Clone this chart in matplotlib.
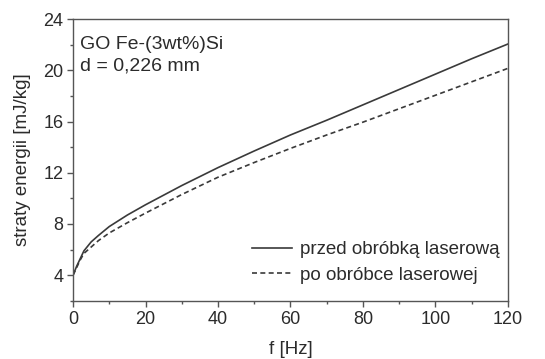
import matplotlib
matplotlib.use("Agg")
import matplotlib.pyplot as plt
from matplotlib.ticker import MultipleLocator

plt.rcParams['font.family'] = ['Liberation Sans', 'DejaVu Sans']

f_hz = [0, 1, 2, 3, 5, 7, 10, 15, 20, 30, 40, 50, 60, 70, 80, 90, 100, 110, 120]
straty_przed = [4.0, 4.7, 5.3, 5.9, 6.6, 7.1, 7.8, 8.7, 9.5, 11.0, 12.4, 13.7,
                14.95, 16.1, 17.3, 18.5, 19.7, 20.9, 22.05]
straty_po = [4.0, 4.6, 5.2, 5.7, 6.2, 6.7, 7.3, 8.1, 8.85, 10.3, 11.65, 12.8,
             13.9, 14.95, 15.95, 17.0, 18.05, 19.1, 20.15]
labels = ['przed obróbką laserową', 'po obróbce laserowej']

txt = '#2b2b2b'
fig = plt.figure(figsize=(5.45, 3.59), dpi=100)
ax = fig.add_axes([0.134, 0.162, 0.798, 0.785])

ax.plot(f_hz, straty_przed, color='#3a3a3a', lw=1.2, ls='-', label=labels[0])
ax.plot(f_hz, straty_po, color='#3a3a3a', lw=1.2, ls=(0, (3, 2)), label=labels[1])

ax.set_xlim(0, 120)
ax.set_ylim(2, 24)
ax.xaxis.set_major_locator(MultipleLocator(20))
ax.xaxis.set_minor_locator(MultipleLocator(10))
ax.yaxis.set_major_locator(MultipleLocator(4))
ax.yaxis.set_minor_locator(MultipleLocator(2))
ax.tick_params(which='major', direction='out', length=4, width=1, colors='#555555',
               labelsize=13, labelcolor=txt, pad=3)
ax.tick_params(which='minor', direction='out', length=2.5, width=1, colors='#555555')
for s in ax.spines.values():
    s.set_color('#555555')
    s.set_linewidth(1)

ax.set_xlabel('f [Hz]', fontsize=13.5, color=txt, labelpad=10)
ax.set_ylabel('straty energii [mJ/kg]', fontsize=13.5, color=txt, labelpad=9)

ax.text(0.015, 0.94, 'GO Fe-(3wt%)Si\nd = 0,226 mm', transform=ax.transAxes,
        fontsize=14, color=txt, va='top', ha='left', linespacing=1.35)

leg = ax.legend(loc='lower right', bbox_to_anchor=(1.02, 0.0), frameon=False,
                fontsize=13.5, handlelength=2.1, handletextpad=0.45, labelspacing=0.45)
for t in leg.get_texts():
    t.set_color(txt)

fig.savefig('out.png', dpi=100)
